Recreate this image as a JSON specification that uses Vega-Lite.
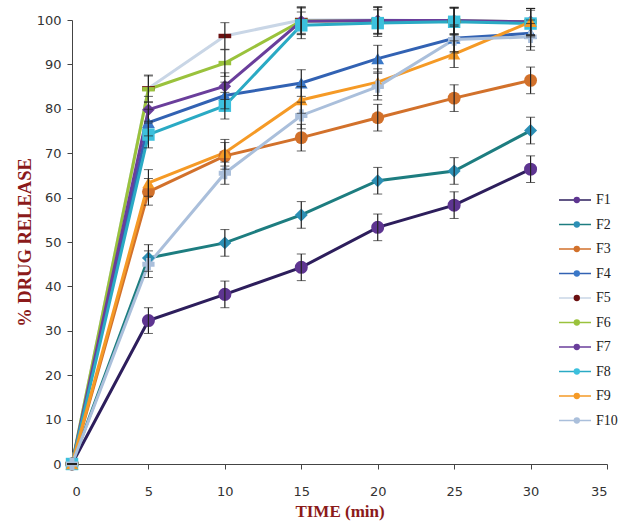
{
  "$schema": "https://vega.github.io/schema/vega-lite/v6.json",
  "width": 535,
  "height": 444,
  "autosize": "none",
  "padding": {"left": 72, "top": 20, "right": 16, "bottom": 61},
  "background": "white",
  "config": {
    "view": {"stroke": null},
    "axis": {"grid": false, "domainColor": "#444", "tickColor": "#444", "labelFont": "DejaVu Sans", "labelFontSize": 13, "labelColor": "#333", "titleFont": "Liberation Serif", "titleFontWeight": "bold", "titleColor": "#8b1a1a"}
  },
  "datasets": {
    "rel": [
      {"series": "F1", "time": 0, "value": 0, "err": 0},
      {"series": "F1", "time": 5, "value": 32.3, "err": 2.9},
      {"series": "F1", "time": 10, "value": 38.2, "err": 3},
      {"series": "F1", "time": 15, "value": 44.3, "err": 3},
      {"series": "F1", "time": 20, "value": 53.3, "err": 3},
      {"series": "F1", "time": 25, "value": 58.3, "err": 3},
      {"series": "F1", "time": 30, "value": 66.4, "err": 3},
      {"series": "F2", "time": 0, "value": 0, "err": 0},
      {"series": "F2", "time": 5, "value": 46.4, "err": 3},
      {"series": "F2", "time": 10, "value": 49.8, "err": 3},
      {"series": "F2", "time": 15, "value": 56.1, "err": 3},
      {"series": "F2", "time": 20, "value": 63.8, "err": 3},
      {"series": "F2", "time": 25, "value": 66.0, "err": 3},
      {"series": "F2", "time": 30, "value": 75.1, "err": 3},
      {"series": "F3", "time": 0, "value": 0, "err": 0},
      {"series": "F3", "time": 5, "value": 61.3, "err": 3},
      {"series": "F3", "time": 10, "value": 69.4, "err": 3},
      {"series": "F3", "time": 15, "value": 73.5, "err": 3},
      {"series": "F3", "time": 20, "value": 78.0, "err": 3},
      {"series": "F3", "time": 25, "value": 82.4, "err": 3},
      {"series": "F3", "time": 30, "value": 86.4, "err": 3},
      {"series": "F4", "time": 0, "value": 0, "err": 0},
      {"series": "F4", "time": 5, "value": 76.9, "err": 3},
      {"series": "F4", "time": 10, "value": 83.0, "err": 3},
      {"series": "F4", "time": 15, "value": 85.8, "err": 3},
      {"series": "F4", "time": 20, "value": 91.3, "err": 3},
      {"series": "F4", "time": 25, "value": 95.9, "err": 3},
      {"series": "F4", "time": 30, "value": 97.0, "err": 3},
      {"series": "F5", "time": 0, "value": 0, "err": 0},
      {"series": "F5", "time": 5, "value": 84.6, "err": 3},
      {"series": "F5", "time": 10, "value": 96.4, "err": 3},
      {"series": "F5", "time": 15, "value": 100, "err": 3},
      {"series": "F5", "time": 20, "value": 100, "err": 3},
      {"series": "F5", "time": 25, "value": 99.8, "err": 3},
      {"series": "F5", "time": 30, "value": 99.6, "err": 3},
      {"series": "F6", "time": 0, "value": 0, "err": 0},
      {"series": "F6", "time": 5, "value": 84.4, "err": 3},
      {"series": "F6", "time": 10, "value": 90.3, "err": 3},
      {"series": "F6", "time": 15, "value": 99.8, "err": 3},
      {"series": "F6", "time": 20, "value": 99.8, "err": 3},
      {"series": "F6", "time": 25, "value": 99.8, "err": 3},
      {"series": "F6", "time": 30, "value": 99.6, "err": 3},
      {"series": "F7", "time": 0, "value": 0, "err": 0},
      {"series": "F7", "time": 5, "value": 79.8, "err": 3},
      {"series": "F7", "time": 10, "value": 85.1, "err": 3},
      {"series": "F7", "time": 15, "value": 99.7, "err": 3},
      {"series": "F7", "time": 20, "value": 99.9, "err": 3},
      {"series": "F7", "time": 25, "value": 99.9, "err": 3},
      {"series": "F7", "time": 30, "value": 99.6, "err": 3},
      {"series": "F8", "time": 0, "value": 0, "err": 0},
      {"series": "F8", "time": 5, "value": 74.2, "err": 3},
      {"series": "F8", "time": 10, "value": 80.7, "err": 3},
      {"series": "F8", "time": 15, "value": 98.8, "err": 3},
      {"series": "F8", "time": 20, "value": 99.3, "err": 3},
      {"series": "F8", "time": 25, "value": 99.6, "err": 3},
      {"series": "F8", "time": 30, "value": 99.2, "err": 3},
      {"series": "F9", "time": 0, "value": 0, "err": 0},
      {"series": "F9", "time": 5, "value": 63.3, "err": 3},
      {"series": "F9", "time": 10, "value": 70.1, "err": 3},
      {"series": "F9", "time": 15, "value": 82.0, "err": 3},
      {"series": "F9", "time": 20, "value": 86.0, "err": 3},
      {"series": "F9", "time": 25, "value": 92.3, "err": 3},
      {"series": "F9", "time": 30, "value": 99.6, "err": 3},
      {"series": "F10", "time": 0, "value": 0, "err": 0},
      {"series": "F10", "time": 5, "value": 45.0, "err": 3},
      {"series": "F10", "time": 10, "value": 65.5, "err": 2.5},
      {"series": "F10", "time": 15, "value": 78.5, "err": 3},
      {"series": "F10", "time": 20, "value": 85.0, "err": 3},
      {"series": "F10", "time": 25, "value": 95.6, "err": 3},
      {"series": "F10", "time": 30, "value": 96.2, "err": 3}
    ]
  },
  "data": {"name": "rel"},
  "encoding": {
    "x": {"field": "time", "type": "quantitative", "title": "TIME (min)", "scale": {"domain": [0, 35], "nice": false}, "axis": {"values": [0, 5, 10, 15, 20, 25, 30, 35], "tickSize": 5, "labelPadding": 16, "titlePadding": 5, "titleFontSize": 17}},
    "y": {"field": "value", "type": "quantitative", "title": "% DRUG RELEASE", "scale": {"domain": [0, 100], "nice": false}, "axis": {"values": [0, 10, 20, 30, 40, 50, 60, 70, 80, 90, 100], "tickSize": 5, "labelPadding": 6, "titlePadding": 2, "titleFontSize": 18.5}}
  },
  "layer": [
    {
      "mark": {"type": "line", "strokeWidth": 3},
      "encoding": {
        "color": {
          "field": "series", "type": "nominal", "sort": ["F1", "F2", "F3", "F4", "F5", "F6", "F7", "F8", "F9", "F10"],
          "scale": {"domain": ["F1", "F2", "F3", "F4", "F5", "F6", "F7", "F8", "F9", "F10"], "range": ["#2d1e5c", "#1d7d80", "#d2712b", "#3262b3", "#c9d6e6", "#9ac23c", "#6a3e9b", "#2aaac4", "#f59a26", "#aabfdb"]},
          "legend": {"title": null, "orient": "none", "legendX": 496, "legendY": 173, "padding": 0, "symbolType": "M-3.2,0H3.2", "symbolSize": 100, "symbolStrokeWidth": 1.5, "labelFont": "Liberation Serif", "labelFontSize": 14, "labelColor": "#222", "labelOffset": 14, "rowPadding": 10.5}
        }
      }
    },
    {
      "mark": {"type": "point", "filled": true, "opacity": 1},
      "encoding": {
        "color": {
          "field": "series", "type": "nominal", "sort": ["F1", "F2", "F3", "F4", "F5", "F6", "F7", "F8", "F9", "F10"],
          "scale": {"domain": ["F1", "F2", "F3", "F4", "F5", "F6", "F7", "F8", "F9", "F10"], "range": ["#5e3591", "#2c8fb5", "#d2712b", "#3a78c8", "#6b1010", "#9ac23c", "#6a3e9b", "#3cc0dd", "#f59a26", "#aabfdb"]},
          "legend": {"title": null, "orient": "none", "legendX": 497.8, "legendY": 173, "padding": 0, "symbolSize": 40, "labelFont": "Liberation Serif", "labelFontSize": 14, "labelExpr": "''", "labelOffset": 14, "rowPadding": 10.5}
        },
        "shape": {
          "field": "series", "type": "nominal", "sort": ["F1", "F2", "F3", "F4", "F5", "F6", "F7", "F8", "F9", "F10"],
          "scale": {"domain": ["F1", "F2", "F3", "F4", "F5", "F6", "F7", "F8", "F9", "F10"], "range": ["circle", "diamond", "circle", "triangle-up", "M-1,-0.35H1V0.35H-1Z", "M-1,-0.35H1V0.35H-1Z", "diamond", "square", "triangle-up", "cross"]},
          "legend": {"title": null, "orient": "none", "legendX": 497.8, "legendY": 173, "padding": 0, "symbolSize": 40, "labelFont": "Liberation Serif", "labelFontSize": 14, "labelExpr": "''", "labelOffset": 14, "rowPadding": 10.5}
        },
        "size": {
          "field": "series", "type": "nominal",
          "scale": {"domain": ["F1", "F2", "F3", "F4", "F5", "F6", "F7", "F8", "F9", "F10"], "range": [170, 150, 70, 130, 60, 60, 70, 140, 100, 80]},
          "legend": null
        }
      }
    },
    {
      "mark": {"type": "errorbar", "ticks": {"size": 9, "color": "#222"}, "rule": {"color": "#222", "strokeWidth": 1.2}},
      "encoding": {
        "yError": {"field": "err"}
      }
    }
  ],
  "resolve": {"scale": {"color": "independent"}}
}
